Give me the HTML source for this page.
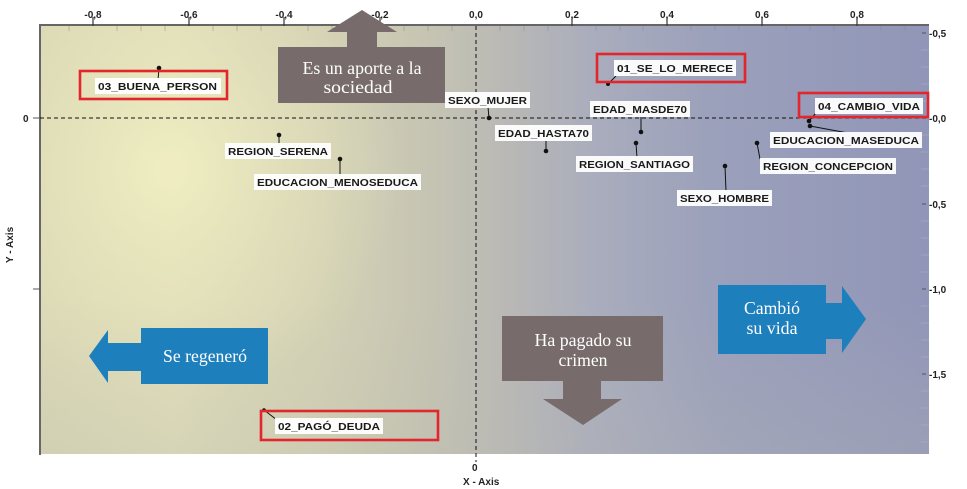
<!DOCTYPE html>
<html><head><meta charset="utf-8"><style>
html,body{margin:0;padding:0;background:#fff;}
svg{display:block;}
.lb{font-family:"Liberation Sans",Arial,sans-serif;font-weight:bold;font-size:10.5px;fill:#1a1a1a;}
.ax{font-family:"Liberation Sans",Arial,sans-serif;font-weight:bold;font-size:10px;fill:#222;}
.sf{font-family:"Liberation Serif","Times New Roman",serif;font-size:18px;fill:#fff;}
</style></head><body>
<svg width="967" height="489" viewBox="0 0 967 489" xmlns="http://www.w3.org/2000/svg">
<defs>
<linearGradient id="lg" x1="40" y1="0" x2="929" y2="0" gradientUnits="userSpaceOnUse">
<stop offset="0" stop-color="#dad8b5"/>
<stop offset="0.15" stop-color="#e0deb9"/>
<stop offset="0.32" stop-color="#d3d1b4"/>
<stop offset="0.44" stop-color="#c5c4b3"/>
<stop offset="0.52" stop-color="#bab9b5"/>
<stop offset="0.62" stop-color="#aaadbc"/>
<stop offset="0.76" stop-color="#9ba0bb"/>
<stop offset="1" stop-color="#9196b8"/>
</linearGradient>
<radialGradient id="rg" cx="170" cy="170" r="230" gradientUnits="userSpaceOnUse">
<stop offset="0" stop-color="#f2f0c2" stop-opacity="0.85"/>
<stop offset="0.6" stop-color="#ece9bf" stop-opacity="0.35"/>
<stop offset="1" stop-color="#ece9bf" stop-opacity="0"/>
</radialGradient>
<linearGradient id="bg2" x1="0" y1="300" x2="0" y2="455" gradientUnits="userSpaceOnUse">
<stop offset="0" stop-color="#b8b8b0" stop-opacity="0"/>
<stop offset="1" stop-color="#b8b8b0" stop-opacity="0.25"/>
</linearGradient>
</defs>

<!-- plot background -->
<rect x="40" y="25" width="889" height="429" fill="url(#lg)"/>
<rect x="40" y="25" width="889" height="429" fill="url(#rg)"/>
<rect x="40" y="25" width="889" height="429" fill="url(#bg2)"/>
<!-- borders -->
<line x1="39" y1="25" x2="929" y2="25" stroke="#666" stroke-width="2"/>
<line x1="40" y1="24" x2="40" y2="455" stroke="#666" stroke-width="2"/>

<!-- minor ticks top -->
<g stroke="#8a8a80" stroke-width="1" opacity="0.5">
<line x1="69" y1="26" x2="69" y2="31"/><line x1="117" y1="26" x2="117" y2="31"/>
<line x1="141" y1="26" x2="141" y2="31"/><line x1="165" y1="26" x2="165" y2="31"/>
<line x1="213" y1="26" x2="213" y2="31"/><line x1="237" y1="26" x2="237" y2="31"/>
<line x1="261" y1="26" x2="261" y2="31"/><line x1="308" y1="26" x2="308" y2="31"/>
<line x1="332" y1="26" x2="332" y2="31"/><line x1="404" y1="26" x2="404" y2="31"/>
<line x1="428" y1="26" x2="428" y2="31"/><line x1="452" y1="26" x2="452" y2="31"/>
<line x1="500" y1="26" x2="500" y2="31"/><line x1="524" y1="26" x2="524" y2="31"/>
<line x1="548" y1="26" x2="548" y2="31"/><line x1="596" y1="26" x2="596" y2="31"/>
<line x1="620" y1="26" x2="620" y2="31"/><line x1="643" y1="26" x2="643" y2="31"/>
<line x1="691" y1="26" x2="691" y2="31"/><line x1="715" y1="26" x2="715" y2="31"/>
<line x1="739" y1="26" x2="739" y2="31"/><line x1="786" y1="26" x2="786" y2="31"/>
<line x1="810" y1="26" x2="810" y2="31"/><line x1="834" y1="26" x2="834" y2="31"/>
<line x1="881" y1="26" x2="881" y2="31"/><line x1="905" y1="26" x2="905" y2="31"/>
</g>
<g stroke="#b4b7cf" stroke-width="1" opacity="0.45">
<line x1="921" y1="50" x2="929" y2="50"/><line x1="921" y1="67" x2="929" y2="67"/>
<line x1="921" y1="84" x2="929" y2="84"/><line x1="921" y1="101" x2="929" y2="101"/>
<line x1="921" y1="135" x2="929" y2="135"/><line x1="921" y1="152" x2="929" y2="152"/>
<line x1="921" y1="169" x2="929" y2="169"/><line x1="921" y1="186" x2="929" y2="186"/>
<line x1="921" y1="221" x2="929" y2="221"/><line x1="921" y1="238" x2="929" y2="238"/>
<line x1="921" y1="255" x2="929" y2="255"/><line x1="921" y1="272" x2="929" y2="272"/>
<line x1="921" y1="306" x2="929" y2="306"/><line x1="921" y1="323" x2="929" y2="323"/>
<line x1="921" y1="340" x2="929" y2="340"/><line x1="921" y1="357" x2="929" y2="357"/>
<line x1="921" y1="391" x2="929" y2="391"/><line x1="921" y1="408" x2="929" y2="408"/>
<line x1="921" y1="425" x2="929" y2="425"/><line x1="921" y1="442" x2="929" y2="442"/>
</g>

<!-- major ticks top -->
<g stroke="#333" stroke-width="1.2">
<line x1="93" y1="17" x2="93" y2="26"/><line x1="189" y1="17" x2="189" y2="26"/>
<line x1="284" y1="17" x2="284" y2="26"/><line x1="380" y1="17" x2="380" y2="26"/>
<line x1="572" y1="17" x2="572" y2="26"/><line x1="667" y1="17" x2="667" y2="26"/>
<line x1="762" y1="17" x2="762" y2="26"/><line x1="857" y1="17" x2="857" y2="26"/>
</g>
<!-- top axis labels -->
<g class="ax" text-anchor="middle">
<text x="93" y="18">-0,8</text>
<text x="189" y="18">-0,6</text>
<text x="284" y="18">-0,4</text>
<text x="380" y="18">-0,2</text>
<text x="476" y="18">0,0</text>
<text x="572" y="18">0,2</text>
<text x="667" y="18">0,4</text>
<text x="762" y="18">0,6</text>
<text x="857" y="18">0,8</text>
</g>
<!-- right axis -->
<g stroke="#555" stroke-width="1">
<line x1="922" y1="33" x2="926" y2="33"/><line x1="922" y1="204" x2="926" y2="204"/>
<line x1="922" y1="289" x2="926" y2="289"/><line x1="922" y1="374" x2="926" y2="374"/>
<line x1="33" y1="118" x2="40" y2="118"/><line x1="33" y1="289" x2="40" y2="289"/>
</g>
<g class="ax">
<text x="929" y="37">-0,5</text>
<text x="929" y="122">-0,0</text>
<text x="929" y="208">-0,5</text>
<text x="929" y="293">-1,0</text>
<text x="929" y="378">-1,5</text>
<text x="23" y="122">0</text>
<text x="472" y="471">0</text>
<text x="463" y="485">X - Axis</text>
<text transform="translate(13,263) rotate(-90)">Y - Axis</text>
</g>

<!-- dashed axes -->
<line x1="40" y1="118" x2="929" y2="118" stroke="#111" stroke-width="1" stroke-dasharray="4,3"/>
<line x1="476" y1="26" x2="476" y2="462" stroke="#111" stroke-width="1" stroke-dasharray="4,3"/>

<!-- arrows -->
<polygon points="278,47 347,47 347,32 327,32 362,10 397,32 377,32 377,47 445,47 445,103 278,103" fill="#776b6b"/>
<text class="sf" x="362" y="74" text-anchor="middle" textLength="119" lengthAdjust="spacingAndGlyphs">Es un aporte a la</text>
<text class="sf" x="358" y="93" text-anchor="middle" textLength="69" lengthAdjust="spacingAndGlyphs">sociedad</text>
<polygon points="141,328 268,328 268,384 141,384 141,371 108,371 108,383 89,356 108,330 108,343 141,343" fill="#1e7fbd"/>
<text class="sf" x="205" y="362" text-anchor="middle" textLength="84" lengthAdjust="spacingAndGlyphs">Se regeneró</text>
<polygon points="502,316 663,316 663,381 601,381 601,399 622,399 583,425 543,399 563,399 563,381 502,381" fill="#776b6b"/>
<text class="sf" x="583" y="346" text-anchor="middle" textLength="97" lengthAdjust="spacingAndGlyphs">Ha pagado su</text>
<text class="sf" x="583" y="366" text-anchor="middle" textLength="49" lengthAdjust="spacingAndGlyphs">crimen</text>
<polygon points="718,285 826,285 826,303 842,303 842,286 866,319 842,353 842,339 826,339 826,354 718,354" fill="#1e7fbd"/>
<text class="sf" x="772" y="314" text-anchor="middle" textLength="56" lengthAdjust="spacingAndGlyphs">Cambió</text>
<text class="sf" x="772" y="334" text-anchor="middle" textLength="51" lengthAdjust="spacingAndGlyphs">su vida</text>

<!-- connectors -->
<g stroke="#111" stroke-width="1">
<line x1="159" y1="68" x2="158" y2="80"/>
<line x1="279" y1="135" x2="279" y2="145"/>
<line x1="340" y1="159" x2="340" y2="176"/>
<line x1="489" y1="118" x2="488" y2="107"/>
<line x1="546" y1="151" x2="546" y2="140"/>
<line x1="641" y1="132" x2="641" y2="116"/>
<line x1="636" y1="143" x2="637" y2="158"/>
<line x1="608" y1="84" x2="616" y2="76"/>
<line x1="725" y1="166" x2="726" y2="191"/>
<line x1="757" y1="143" x2="760" y2="159"/>
<line x1="809" y1="121" x2="816" y2="113"/>
<line x1="810" y1="126" x2="848" y2="133"/>
<line x1="264" y1="410" x2="277" y2="420"/>
</g>
<g fill="#111">
<circle cx="159" cy="68" r="2.3"/>
<circle cx="279" cy="135" r="2.3"/>
<circle cx="340" cy="159" r="2.3"/>
<circle cx="489" cy="118" r="2.3"/>
<circle cx="546" cy="151" r="2.3"/>
<circle cx="641" cy="132" r="2.3"/>
<circle cx="636" cy="143" r="2.3"/>
<circle cx="608" cy="84" r="2"/>
<circle cx="725" cy="166" r="2.3"/>
<circle cx="757" cy="143" r="2.3"/>
<circle cx="809" cy="121" r="2.3"/>
<circle cx="810" cy="126" r="2.3"/>
<circle cx="264" cy="410" r="1.8"/>
</g>

<!-- label boxes -->
<g fill="#fff" opacity="0.95">
<rect x="95" y="78" width="126" height="16"/>
<rect x="225" y="143" width="106" height="16"/>
<rect x="254" y="174" width="167" height="16"/>
<rect x="445" y="92" width="85" height="16"/>
<rect x="495" y="125" width="97" height="16"/>
<rect x="590" y="101" width="100" height="16"/>
<rect x="576" y="156" width="117" height="16"/>
<rect x="614" y="60" width="122" height="16"/>
<rect x="677" y="190" width="95" height="16"/>
<rect x="760" y="158" width="136" height="16"/>
<rect x="815" y="98" width="108" height="16"/>
<rect x="770" y="132" width="152" height="16"/>
<rect x="275" y="418" width="108" height="16"/>
</g>
<g class="lb">
<text x="98" y="90" textLength="119" lengthAdjust="spacingAndGlyphs">03_BUENA_PERSON</text>
<text x="228" y="155" textLength="100" lengthAdjust="spacingAndGlyphs">REGION_SERENA</text>
<text x="257" y="186" textLength="161" lengthAdjust="spacingAndGlyphs">EDUCACION_MENOSEDUCA</text>
<text x="448" y="104" textLength="79" lengthAdjust="spacingAndGlyphs">SEXO_MUJER</text>
<text x="498" y="137" textLength="91" lengthAdjust="spacingAndGlyphs">EDAD_HASTA70</text>
<text x="593" y="113" textLength="94" lengthAdjust="spacingAndGlyphs">EDAD_MASDE70</text>
<text x="579" y="168" textLength="111" lengthAdjust="spacingAndGlyphs">REGION_SANTIAGO</text>
<text x="617" y="72" textLength="116" lengthAdjust="spacingAndGlyphs">01_SE_LO_MERECE</text>
<text x="680" y="202" textLength="89" lengthAdjust="spacingAndGlyphs">SEXO_HOMBRE</text>
<text x="763" y="170" textLength="130" lengthAdjust="spacingAndGlyphs">REGION_CONCEPCION</text>
<text x="818" y="110" textLength="102" lengthAdjust="spacingAndGlyphs">04_CAMBIO_VIDA</text>
<text x="773" y="144" textLength="146" lengthAdjust="spacingAndGlyphs">EDUCACION_MASEDUCA</text>
<text x="278" y="430" textLength="102" lengthAdjust="spacingAndGlyphs">02_PAGÓ_DEUDA</text>
</g>

<!-- red highlight rectangles -->
<g fill="none" stroke="#e2262b" stroke-width="2.6">
<rect x="80" y="71" width="147" height="28"/>
<rect x="597" y="54" width="148" height="28"/>
<rect x="799" y="93" width="129" height="24"/>
<rect x="261" y="411" width="177" height="29"/>
</g>
</svg>
</body></html>
